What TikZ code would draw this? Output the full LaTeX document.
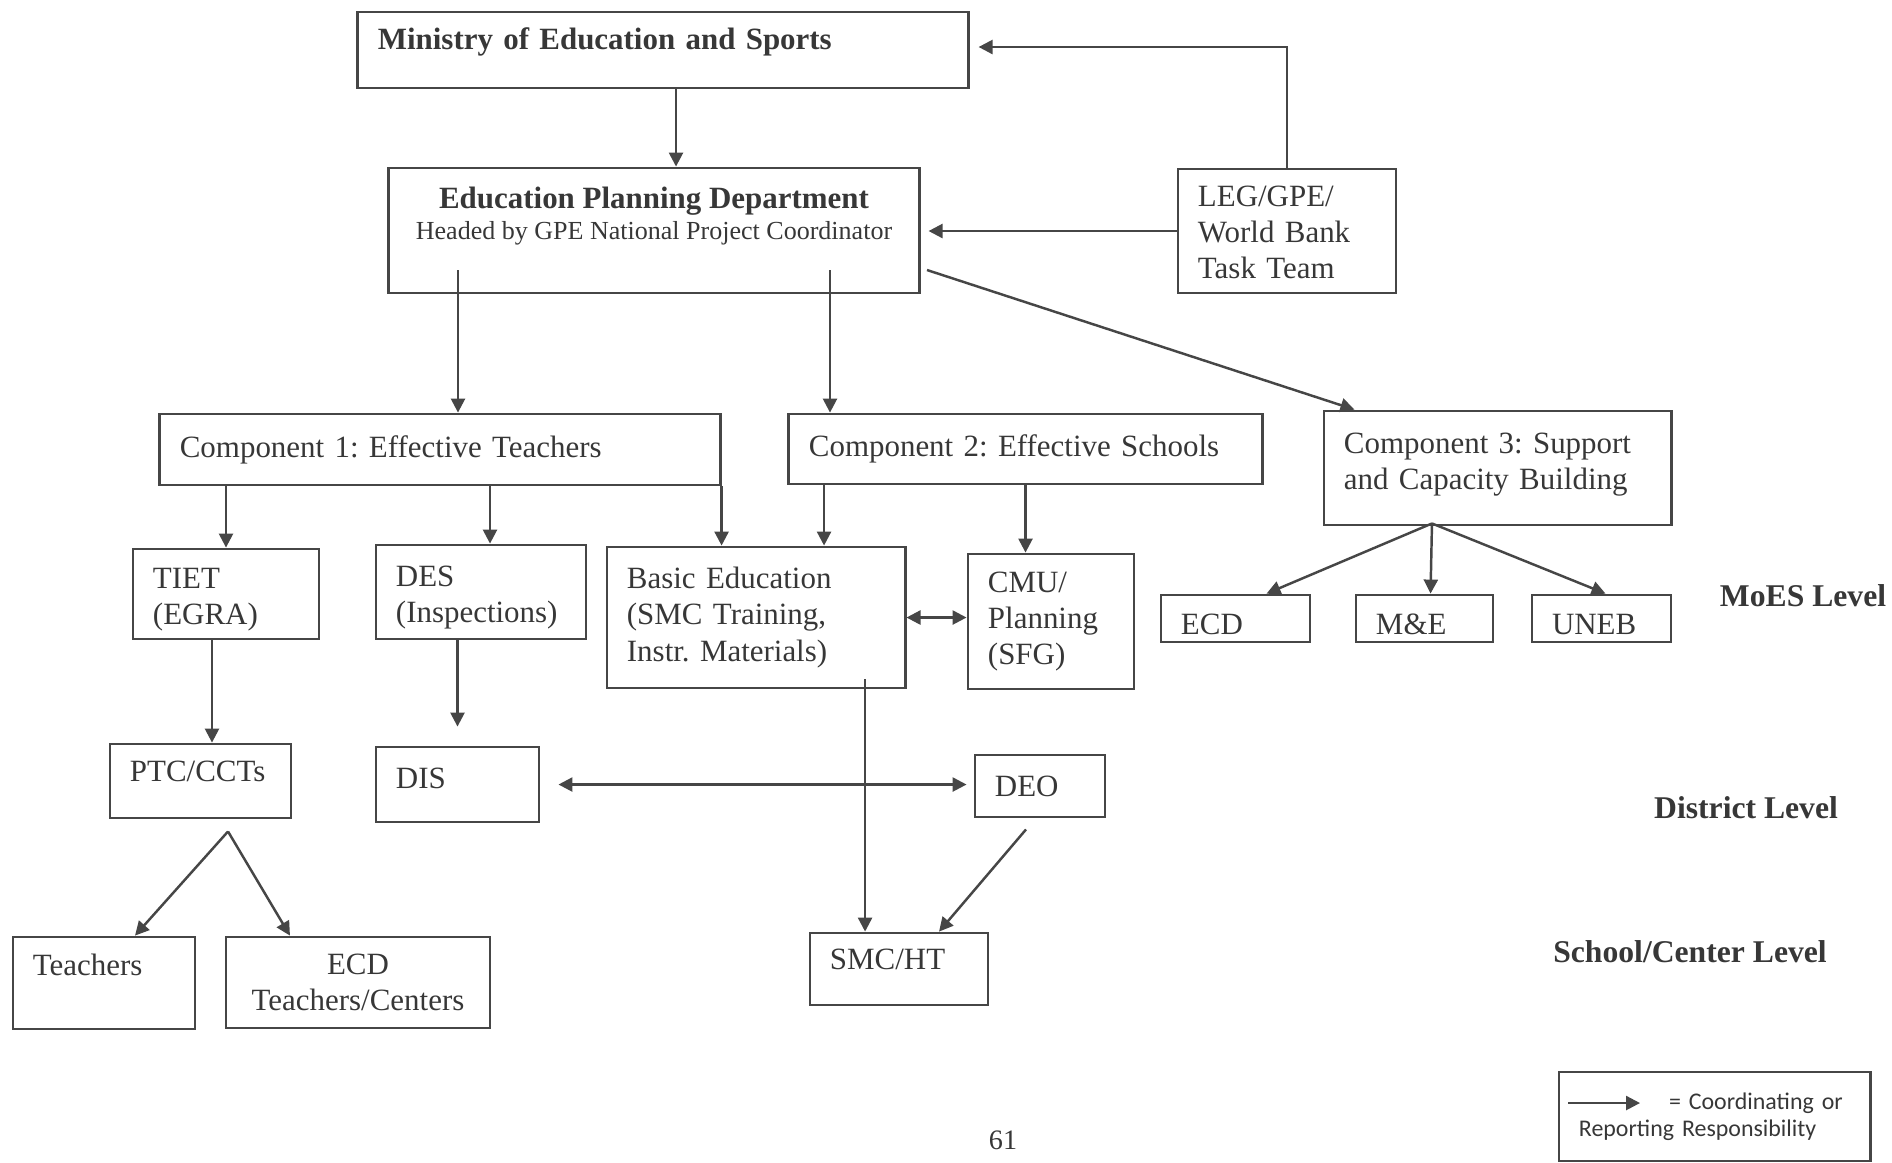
\documentclass[tikz,border=0pt]{standalone}
\usepackage{fontspec}
\setmainfont{Liberation Serif}
\newfontfamily\legendfont{Carlito}
\usetikzlibrary{positioning, arrows.meta, calc}
\definecolor{moesline}{RGB}{70,70,70}
\definecolor{moestext}{RGB}{55,55,55}

\begin{document}
\begin{tikzpicture}[x=0.01cm, y=-0.01cm,
    box/.style={draw=moesline, line width=0.8pt, rectangle, inner xsep=0.2cm, inner ysep=0.1cm, align=left, text=moestext, font=\fontsize{8.8}{10.3}\selectfont\frenchspacing},
    lvl/.style={text=moestext, font=\fontsize{9}{10.3}\selectfont\bfseries},
    arr/.style={-{Triangle[length=1.4mm, width=1.4mm]}, line width=0.7pt, moesline},
    darr/.style={{Triangle[length=1.4mm, width=1.4mm]}-{Triangle[length=1.4mm, width=1.4mm]}, line width=0.7pt, moesline}]
  \useasboundingbox (0,0) rectangle (1892,1162);
  \node[box, text width=5.70cm, minimum height=0.76cm, text depth=0.23cm, font=\fontsize{8.8}{10.3}\selectfont\bfseries] (min) at (663,50) {Ministry of Education and Sports};
  \node[box, align=center, minimum width=5.30cm, minimum height=1.25cm, inner ysep=0.05cm, text depth=0.35cm] (epd) at (654,230.5) {\textbf{Education Planning Department}\\[-1.5pt]{\fontsize{7.4}{9}\selectfont Headed by GPE National Project Coordinator}};
  \node[box, text width=1.78cm, minimum height=1.24cm, text depth=0.70cm] (leg) at (1287,231) {LEG/GPE/\\World Bank\\Task Team};
  \node[box, text width=5.20cm, minimum height=0.71cm] (c1) at (440,449.5) {Component 1: Effective Teachers};
  \node[box, text width=4.33cm, minimum height=0.70cm] (c2) at (1025.5,449) {Component 2: Effective Schools};
  \node[box, text width=3.07cm, minimum height=1.14cm, text depth=0.5cm] (c3) at (1497.5,468) {Component 3: Support\\and Capacity Building};
  \node[box, text width=1.46cm, minimum height=0.90cm, text depth=0.31cm] (tiet) at (226,594) {TIET\\(EGRA)};
  \node[box, text width=1.70cm, minimum height=0.94cm, text depth=0.31cm] (des) at (481,592) {DES\\(Inspections)};
  \node[box, text width=2.58cm, minimum height=1.41cm] (basic) at (756,617.5) {Basic Education\\(SMC Training,\\Instr. Materials)};
  \node[box, text width=1.26cm, minimum height=1.35cm] (cmu) at (1051,621.5) {CMU/\\Planning\\(SFG)};
  \node[box, text width=1.09cm, minimum height=0.47cm, inner ysep=0.04cm, text height=0.32cm] (ecd) at (1235.5,618.5) {ECD};
  \node[box, text width=0.97cm, minimum height=0.47cm, inner ysep=0.04cm, text height=0.32cm] (me) at (1424.5,618.5) {M\&E};
  \node[box, text width=0.99cm, minimum height=0.47cm, inner ysep=0.04cm, text height=0.32cm] (uneb) at (1601.5,618.5) {UNEB};
  \node[box, text width=1.41cm, minimum height=0.74cm, text depth=0.2cm] (ptc) at (200.5,781) {PTC/CCTs};
  \node[box, text width=1.23cm, minimum height=0.75cm, text depth=0.12cm] (dis) at (457.5,784.5) {DIS};
  \node[box, text width=0.90cm, minimum height=0.62cm] (deo) at (1040,786) {DEO};
  \node[box, text width=1.42cm, minimum height=0.92cm, text depth=0.36cm] (teach) at (104,983) {Teachers};
  \node[box, align=center, text width=2.24cm, minimum height=0.91cm] (ecdtc) at (358,982.5) {ECD\\Teachers/Centers};
  \node[box, text width=1.38cm, minimum height=0.72cm, text depth=0.2cm] (smc) at (899,969) {SMC/HT};
  \node[lvl] (lvlmoes) at (1803,596) {MoES Level};
  \node[lvl] (lvldist) at (1746,808) {District Level};
  \node[lvl] (lvlschool) at (1690,952) {School/Center Level};
  \node[text=moestext, font=\fontsize{8}{9}\selectfont] (page) at (1003,1140) {61};
  \node[box, text width=2.71cm, minimum height=0.89cm, font=\legendfont\fontsize{6.8}{7.8}\selectfont] (lgd) at (1714.5,1116.5) {\hspace*{0.9cm}= Coordinating or\\Reporting Responsibility};
  \coordinate (lga) at (1568,1103);
  \coordinate (lgb) at (1640,1103);
  \draw[arr] (lga) -- (lgb);
  \draw[arr] ([xshift=0.13cm]min.south) -- ([xshift=0.13cm]min.south |- epd.north);
  \draw[arr] (leg.north) |- ([xshift=0.09cm, yshift=0.03cm]min.east);
  \draw[arr] (leg.west) -- ([xshift=0.08cm]epd.east |- leg.west);
  \coordinate (ep1) at (458,270);
  \coordinate (ep2) at (830,270);
  \coordinate (ep3) at (927,270);
  \draw[arr] (ep1) -- (ep1 |- c1.north);
  \draw[arr] (ep2) -- (ep2 |- c2.north);
  \draw[arr] (ep3) -- ([xshift=-1.43cm]c3.north);
  \draw[arr] (tiet.north |- c1.south) -- (tiet.north);
  \draw[arr] ([xshift=0.09cm]des.north |- c1.south) -- ([xshift=0.09cm]des.north);
  \draw[arr] (c1.south east) -- (c1.south east |- basic.north);
  \draw[arr] ([xshift=0.68cm]basic.north |- c2.south) -- ([xshift=0.68cm]basic.north);
  \draw[arr] (c2.south) -- (c2.south |- cmu.north);
  \draw[darr] (basic.east) -- (basic.east -| cmu.west);
  \coordinate (c3b) at ([xshift=-0.655cm, yshift=0.03cm]c3.south);
  \draw[arr] (c3b) -- ([xshift=0.31cm]ecd.north);
  \draw[arr] (c3b) -- ([xshift=0.06cm]me.north);
  \draw[arr] (c3b) -- ([xshift=0.04cm]uneb.north);
  \draw[arr] ([xshift=-0.14cm]tiet.south) -- ([xshift=-0.14cm]tiet.south |- ptc.north);
  \draw[arr, shorten >=0.19cm] (dis.north |- des.south) -- (dis.north);
  \draw[darr, shorten <=0.18cm, shorten >=0.07cm] (dis.east) -- (dis.east -| deo.west);
  \draw[arr] ([xshift=1.09cm, yshift=0.1cm]basic.south) -- ([xshift=1.09cm]basic.south |- smc.north);
  \draw[arr] ([xshift=-0.14cm, yshift=-0.11cm]deo.south) -- ([xshift=0.4cm]smc.north);
  \coordinate (pt) at ([xshift=0.275cm, yshift=-0.12cm]ptc.south);
  \draw[arr] (pt) -- ([xshift=0.31cm]teach.north);
  \draw[arr] (pt) -- ([xshift=-0.68cm]ecdtc.north);
\end{tikzpicture}
\end{document}
